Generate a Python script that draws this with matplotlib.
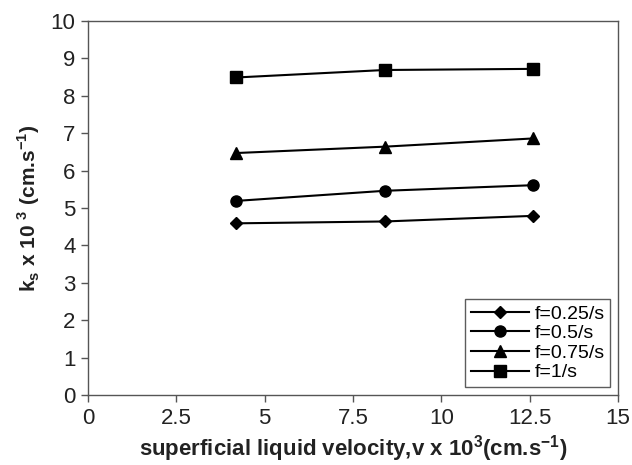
import matplotlib
matplotlib.use('Agg')
import matplotlib.pyplot as plt

plt.rcParams['font.family'] = ['Liberation Sans', 'DejaVu Sans']
plt.rcParams['mathtext.fontset'] = 'custom'
plt.rcParams['mathtext.rm'] = 'Liberation Sans:bold'
plt.rcParams['mathtext.bf'] = 'Liberation Sans:bold'

# Data
velocity = [4.2, 8.4, 12.6]
ks_025 = [4.59, 4.64, 4.79]
ks_05 = [5.19, 5.46, 5.61]
ks_075 = [6.47, 6.64, 6.86]
ks_1 = [8.49, 8.69, 8.72]
labels = ['f=0.25/s', 'f=0.5/s', 'f=0.75/s', 'f=1/s']

fig = plt.figure(figsize=(6.32, 4.65), dpi=100)
ax = fig.add_axes([88 / 632, 1 - 395 / 465, 530 / 632, 374 / 465])

ax.plot(velocity, ks_025, color='black', lw=1.5, marker='D', ms=6, label=labels[0])
ax.plot(velocity, ks_05, color='black', lw=1.5, marker='o', ms=8, label=labels[1])
ax.plot(velocity, ks_075, color='black', lw=1.5, marker='^', ms=8, label=labels[2])
ax.plot(velocity, ks_1, color='black', lw=1.5, marker='s', ms=9, label=labels[3])

ax.set_xlim(0, 15)
ax.set_ylim(0, 10)
ax.set_xticks([0, 2.5, 5, 7.5, 10, 12.5, 15])
ax.set_xticklabels(['0', '2.5', '5', '7.5', '10', '12.5', '15'])
ax.set_yticks(range(0, 11))

for sp in ax.spines.values():
    sp.set_color('#555555')
    sp.set_linewidth(1.0)
ax.tick_params(direction='out', length=5, width=1, colors='#555555',
               labelcolor='#222222', labelsize=16, pad=4)

ax.set_ylabel(r'k$_\mathbf{s}$ x 10 $^\mathbf{3}$ (cm.s$^\mathbf{-1}$)',
              fontsize=15, fontweight='bold', color='#222222', labelpad=6)
ax.set_xlabel(r'superficial liquid velocity,v x 10$^\mathbf{3}$(cm.s$^\mathbf{-1}$)',
              fontsize=16, fontweight='bold', color='#222222', labelpad=3)

leg = ax.legend(loc='lower right', fontsize=14, frameon=True, fancybox=False,
                edgecolor='#333333', handlelength=3.0, handletextpad=0.25,
                labelspacing=0.1, borderaxespad=0.4, borderpad=0.3)
leg.get_frame().set_linewidth(1.0)

fig.savefig('out.png', dpi=100)
